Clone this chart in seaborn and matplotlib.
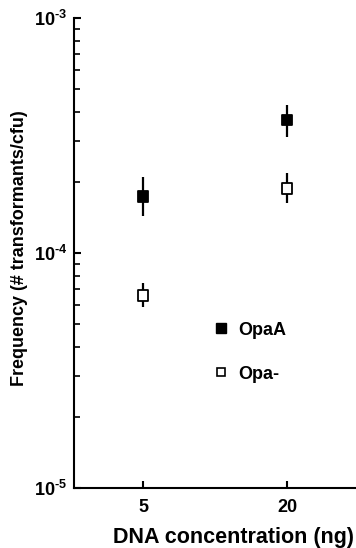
import numpy as np
import pandas as pd
import matplotlib
matplotlib.use("Agg")
import matplotlib.pyplot as plt
import seaborn as sns
from matplotlib.lines import Line2D
from matplotlib.ticker import LogLocator, FixedLocator, FuncFormatter

concentrations = ["5", "20"]
opaA_freq = [1.74e-4, 3.68e-4]
opaA_low = [1.43e-4, 3.13e-4]
opaA_high = [2.10e-4, 4.26e-4]
opaneg_freq = [6.6e-5, 1.88e-4]
opaneg_low = [5.87e-5, 1.64e-4]
opaneg_high = [7.43e-5, 2.18e-4]
series_names = ["OpaA", "Opa-"]

sns.set_theme(style="ticks")
plt.rcParams['font.family'] = ['Liberation Sans', 'DejaVu Sans']
plt.rcParams['font.weight'] = 'bold'
plt.rcParams['mathtext.fontset'] = 'custom'
plt.rcParams['mathtext.rm'] = 'Liberation Sans:bold'
plt.rcParams['mathtext.bf'] = 'Liberation Sans:bold'
plt.rcParams['mathtext.default'] = 'bf'
for k in ['text.color', 'axes.labelcolor', 'xtick.color', 'ytick.color', 'axes.edgecolor']:
    plt.rcParams[k] = 'black'

df = pd.DataFrame({
    "conc": concentrations * 2,
    "pos": [0, 1, 0, 1],
    "freq": opaA_freq + opaneg_freq,
    "low": opaA_low + opaneg_low,
    "high": opaA_high + opaneg_high,
    "series": [series_names[0]] * 2 + [series_names[1]] * 2,
})

fig = plt.figure(figsize=(3.56, 5.48), dpi=100)
ax = fig.add_axes([74/356, 1 - 488/548, (356 - 74)/356, (488 - 18)/548])

for name, sub in df.groupby("series", sort=False):
    yerr = np.vstack([sub["freq"] - sub["low"], sub["high"] - sub["freq"]])
    ax.errorbar(sub["pos"], sub["freq"], yerr=yerr, fmt="none", ecolor="black",
                elinewidth=1.6, capsize=0, zorder=2)
sns.scatterplot(data=df, x="pos", y="freq", hue="series", style="series",
                markers={"OpaA": "s", "Opa-": "s"},
                palette={"OpaA": "black", "Opa-": "white"},
                edgecolor="black", linewidth=1.3, s=55, legend=False, ax=ax, zorder=3)

ax.set_yscale("log")
ax.set_ylim(1e-5, 1e-3)
ax.set_xlim(-0.48, 1.48)
ax.set_xticks([0, 1])
ax.set_xticklabels(concentrations)
ax.yaxis.set_major_locator(FixedLocator([1e-5, 1e-4, 1e-3]))
ax.yaxis.set_major_formatter(FuncFormatter(
    lambda v, p: r"$10^{\text{-}%d}$" % abs(round(np.log10(v)))))
ax.yaxis.set_minor_locator(LogLocator(base=10, subs=np.arange(2, 10)))
ax.yaxis.set_minor_formatter(FuncFormatter(lambda v, p: ""))

ax.tick_params(axis="both", which="major", direction="in", length=5, width=1.5,
               labelsize=13, colors="black")
ax.tick_params(axis="y", which="minor", direction="in", length=4, width=1.2, colors="black")
ax.tick_params(axis="x", pad=8)
ax.tick_params(axis="y", pad=5)
for lab in ax.get_xticklabels() + ax.get_yticklabels():
    lab.set_fontweight("bold")

sns.despine(ax=ax)
for sp in ["left", "bottom"]:
    ax.spines[sp].set_linewidth(1.5)
    ax.spines[sp].set_color("black")

ax.set_xlabel("DNA concentration (ng)", fontsize=15.5, fontweight="bold", labelpad=8, x=0.564)
ax.set_ylabel("Frequency (# transformants/cfu)", fontsize=13, fontweight="bold", labelpad=4, y=0.51)

handles = [
    Line2D([], [], marker="s", linestyle="none", mfc="black", mec="black", markersize=6.5),
    Line2D([], [], marker="s", linestyle="none", mfc="white", mec="black", markersize=6, mew=1.2),
]
leg = ax.legend(handles, series_names, frameon=False, loc="center left",
                bbox_to_anchor=(0.43, 0.289), labelspacing=1.5, handletextpad=0.5,
                handlelength=1.0, prop={"weight": "bold", "size": 13})

fig.savefig("out.png", dpi=100)
